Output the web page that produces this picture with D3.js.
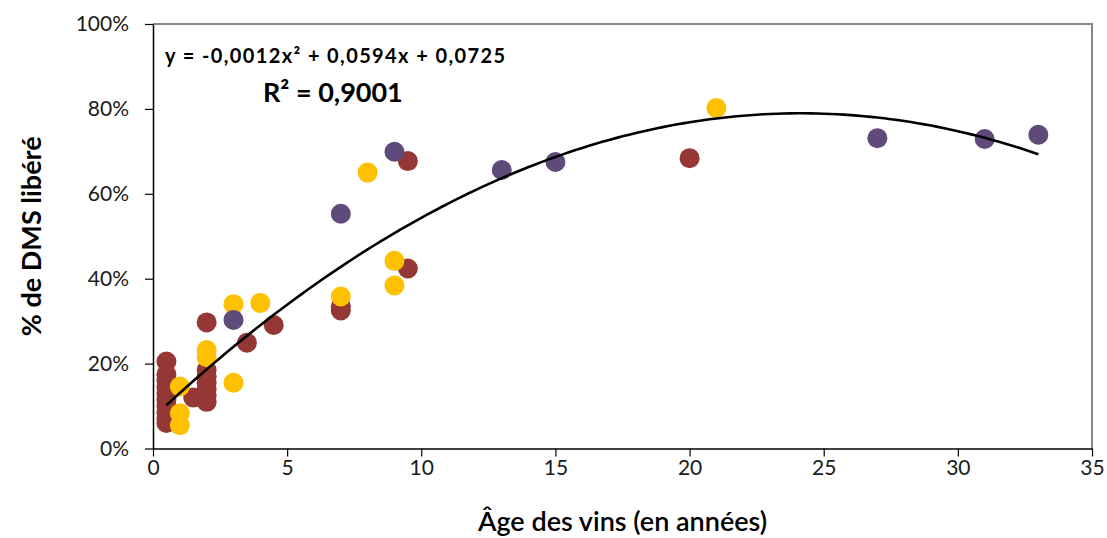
<!DOCTYPE html>
<html>
<head>
<meta charset="utf-8">
<script src="https://cdn.jsdelivr.net/npm/d3@7"></script>
<style>
  html, body { margin: 0; padding: 0; background: #fff; }
  svg { display: block; font-family: Lato, "Open Sans", sans-serif; }
</style>
</head>
<body>
<svg id="chart" width="1107" height="538"></svg>
<script>
// Âge des vins (années) et part de DMS libéré (%), par série
const serieRougeAge = [0.5, 0.5, 0.5, 0.5, 0.5, 0.5, 0.5, 0.5, 0.5, 0.5,
                       1.5, 2, 2, 2, 2, 2, 2, 2, 3.5, 4.5, 7, 7, 9.5, 9.5, 20];
const serieRougeDms = [20.5, 17.5, 16, 14.5, 13, 11.5, 10, 8.5, 7, 6,
                       12, 29.7, 18.5, 17, 15.5, 14, 12.5, 11, 24.9, 29.1, 33.5, 32.5, 67.7, 42.4, 68.4];

const serieOrAge = [1, 1, 1, 2, 2, 3, 3, 4, 7, 8, 9, 9, 21];
const serieOrDms = [14.6, 8.3, 5.5, 23.2, 21.5, 34.0, 15.5, 34.3, 35.8, 65, 44.2, 38.4, 80.2];

const serieVioletAge = [3, 7, 9, 13, 15, 27, 31, 33];
const serieVioletDms = [30.3, 55.3, 69.9, 65.6, 67.5, 73.1, 72.9, 73.9];

// Courbe de tendance polynomiale (ordre 2) : a·x² + b·x + c
const trendCoef = [-0.00123, 0.0594, 0.0725];
const trendR2 = 0.9001;
const trendRange = [0.5, 33];

// Graduations des axes
const xTicks = [0, 5, 10, 15, 20, 25, 30, 35];
const yTicks = [0, 20, 40, 60, 80, 100];

const colors = { rouge: "#953735", or: "#FFC000", violet: "#604A7B" };

const svg = d3.select("#chart");
const W = 1107, H = 538;
const margin = { top: 24, right: 15, bottom: 89.5, left: 153 };
const iw = W - margin.left - margin.right;
const ih = H - margin.top - margin.bottom;

const x = d3.scaleLinear().domain([0, 35]).range([0, iw]);
const y = d3.scaleLinear().domain([0, 100]).range([ih, 0]);

const g = svg.append("g").attr("transform", `translate(${margin.left},${margin.top})`);

// Cadre de la zone de traçage (haut et droite)
g.append("path")
  .attr("d", `M0,0H${iw}V${ih}`)
  .attr("fill", "none")
  .attr("stroke", "#868686")
  .attr("stroke-width", 2);

// Axes
const xAxis = g.append("g")
  .attr("transform", `translate(0,${ih})`)
  .call(d3.axisBottom(x).tickValues(xTicks).tickSize(8).tickSizeOuter(0).tickPadding(4));
const yAxis = g.append("g")
  .call(d3.axisLeft(y).tickValues(yTicks).tickSize(8).tickSizeOuter(0).tickPadding(16)
    .tickFormat(d => d + "%"));

[xAxis, yAxis].forEach(a => {
  a.select(".domain").attr("stroke", "#000").attr("stroke-width", 1.5);
  a.selectAll(".tick line").attr("stroke", "#000").attr("stroke-width", 1.2);
  a.selectAll(".tick text")
    .attr("fill", "#1a1a1a")
    .style("font-family", "Lato, sans-serif")
    .style("font-size", "21px");
});

// Points
const series = [
  { age: serieRougeAge, dms: serieRougeDms, color: colors.rouge },
  { age: serieOrAge, dms: serieOrDms, color: colors.or },
  { age: serieVioletAge, dms: serieVioletDms, color: colors.violet }
];
series.forEach(s => {
  const pts = s.age.map((a, i) => [a, s.dms[i]]);
  g.append("g").selectAll("circle")
    .data(pts)
    .join("circle")
    .attr("cx", d => x(d[0]))
    .attr("cy", d => y(d[1]))
    .attr("r", 10)
    .attr("fill", s.color);
});

// Courbe de tendance
const poly = t => (trendCoef[0] * t * t + trendCoef[1] * t + trendCoef[2]) * 100;
const trendPts = d3.range(trendRange[0], trendRange[1] + 1e-9, 0.25).map(t => [t, poly(t)]);
g.append("path")
  .datum(trendPts)
  .attr("fill", "none")
  .attr("stroke", "#000")
  .attr("stroke-width", 2.6)
  .attr("d", d3.line().x(d => x(d[0])).y(d => y(d[1])));

// Équation et R² (virgule décimale, signe moins ASCII)
const fr = d3.formatLocale({ decimal: ",", thousands: " ", grouping: [3], currency: ["", " €"], minus: "-" });
const f4 = fr.format(".4f");
const sgn = v => (v < 0 ? "- " : "+ ") + f4(Math.abs(v));
const eqText = `y = ${f4(trendCoef[0])}x² ${sgn(trendCoef[1])}x ${sgn(trendCoef[2])}`;
svg.append("text")
  .attr("x", 165).attr("y", 63)
  .attr("font-weight", "bold")
  .attr("font-size", 20)
  .attr("textLength", 340)
  .attr("lengthAdjust", "spacing")
  .attr("fill", "#000")
  .text(eqText);
svg.append("text")
  .attr("x", 263).attr("y", 102)
  .attr("font-weight", "bold")
  .attr("font-size", 27)
  .attr("fill", "#000")
  .text(`R² = ${f4(trendR2)}`);

// Titres des axes
svg.append("text")
  .attr("x", margin.left + iw / 2).attr("y", 531)
  .attr("text-anchor", "middle")
  .attr("font-size", 27)
  .attr("font-weight", 600)
  .attr("fill", "#000")
  .text("Âge des vins (en années)");
svg.append("text")
  .attr("transform", `translate(41,${margin.top + ih / 2}) rotate(-90)`)
  .attr("text-anchor", "middle")
  .attr("font-size", 27)
  .attr("font-weight", "bold")
  .attr("fill", "#000")
  .text("% de DMS libéré");
</script>
</body>
</html>
